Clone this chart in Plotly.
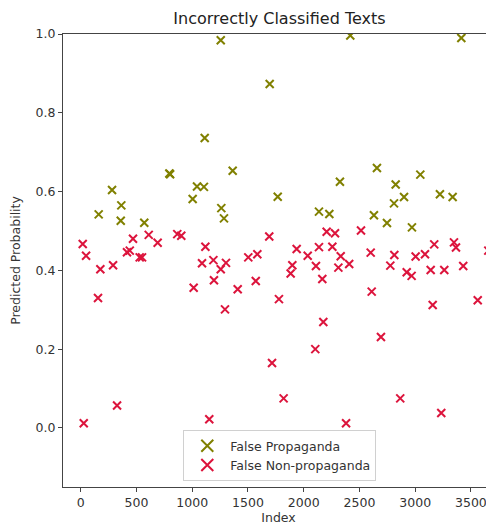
import plotly.graph_objects as go

# False Propaganda (olive)
fp_index = [161, 281, 359, 364, 570, 795, 802, 1004, 1043, 1105, 1112, 1256, 1261, 1285,
            1363, 1695, 1767, 2137, 2230, 2325, 2418, 2630, 2657, 2747, 2810, 2825, 2900,
            2971, 3046, 3222, 3336, 3414]
fp_prob = [0.542, 0.604, 0.526, 0.565, 0.521, 0.646, 0.644, 0.581, 0.613, 0.612, 0.736, 0.984,
           0.558, 0.532, 0.653, 0.873, 0.587, 0.549, 0.543, 0.625, 0.996, 0.540, 0.660,
           0.520, 0.570, 0.618, 0.586, 0.509, 0.643, 0.593, 0.586, 0.990]

# False Non-propaganda (crimson)
fn_index = [18, 27, 48, 155, 176, 290, 326, 415, 440, 469, 529, 550, 610, 690, 866, 902,
            1013, 1088, 1118, 1153, 1190, 1195, 1256, 1294, 1303, 1408, 1503, 1570, 1584,
            1691, 1716, 1778, 1820, 1883, 1898, 1937, 2036, 2104, 2110, 2137, 2167, 2176,
            2206, 2257, 2281, 2311, 2332, 2380, 2408, 2514, 2601, 2610, 2693, 2777, 2813,
            2866, 2924, 2968, 3004, 3088, 3139, 3157, 3171, 3234, 3261, 3348, 3366, 3431,
            3561, 3656]
fn_prob = [0.467, 0.012, 0.437, 0.330, 0.403, 0.413, 0.057, 0.446, 0.450, 0.480, 0.433, 0.433,
           0.490, 0.470, 0.492, 0.488, 0.356, 0.418, 0.460, 0.022, 0.426, 0.375, 0.403,
           0.301, 0.419, 0.352, 0.433, 0.373, 0.441, 0.486, 0.165, 0.327, 0.075, 0.392,
           0.413, 0.454, 0.437, 0.200, 0.411, 0.459, 0.378, 0.269, 0.498, 0.460, 0.494,
           0.407, 0.436, 0.012, 0.416, 0.501, 0.445, 0.346, 0.231, 0.412, 0.439, 0.075,
           0.395, 0.386, 0.435, 0.441, 0.401, 0.312, 0.466, 0.038, 0.401, 0.471, 0.458,
           0.411, 0.324, 0.450]

x_ticks = [0, 500, 1000, 1500, 2000, 2500, 3000, 3500]
y_ticks = [0.0, 0.2, 0.4, 0.6, 0.8, 1.0]

FONT = "DejaVu Sans"
AX = "#444444"
TXT = "#333333"

fig = go.Figure()
fig.add_trace(go.Scatter(
    x=fp_index, y=fp_prob, mode="markers", name="False Propaganda",
    marker=dict(symbol="x-thin", size=8, color="#808000",
                line=dict(color="#808000", width=2)),
))
fig.add_trace(go.Scatter(
    x=fn_index, y=fn_prob, mode="markers", name="False Non-propaganda",
    marker=dict(symbol="x-thin", size=8, color="#DC143C",
                line=dict(color="#DC143C", width=2)),
))

fig.update_layout(
    width=486, height=519,
    margin=dict(l=55, r=0, t=26, b=40),
    paper_bgcolor="white", plot_bgcolor="white",
    font=dict(family=FONT, size=12.5, color=TXT),
    title=dict(text="Incorrectly Classified Texts", x=0.5586, xanchor="center",
               y=0.979, yanchor="middle", xref="container", yref="container",
               font=dict(family=FONT, size=16, color="#222222")),
    showlegend=True,
    legend=dict(x=0.503, xanchor="center", y=0.013, yanchor="bottom",
                bgcolor="rgba(255,255,255,0.8)", bordercolor="#d0d0d0", borderwidth=1,
                font=dict(family=FONT, size=12.5, color=TXT),
                itemsizing="constant", itemwidth=36, tracegroupgap=0),
    xaxis=dict(range=[-159, 3707], tickmode="array", tickvals=x_ticks,
               ticktext=[str(v) for v in x_ticks],
               showgrid=False, zeroline=False, showline=True, linecolor=AX, linewidth=1,
               mirror=True, ticks="outside", ticklen=4, tickcolor=AX,
               tickfont=dict(family=FONT, size=12.5, color=TXT),
               title=dict(text="Index", standoff=2, font=dict(family=FONT, size=12.5, color=TXT)),
               automargin=False),
    yaxis=dict(range=[-0.15, 1.0], tickmode="array", tickvals=y_ticks,
               ticktext=[f"{v:.1f}" for v in y_ticks],
               showgrid=False, zeroline=False, showline=True, linecolor=AX, linewidth=1,
               ticks="outside", ticklen=4, tickcolor=AX,
               tickfont=dict(family=FONT, size=12.5, color=TXT),
               title=dict(text="Predicted Probability", standoff=19,
                          font=dict(family=FONT, size=12.5, color=TXT)),
               automargin=False),
)

fig.write_html("out.html")
